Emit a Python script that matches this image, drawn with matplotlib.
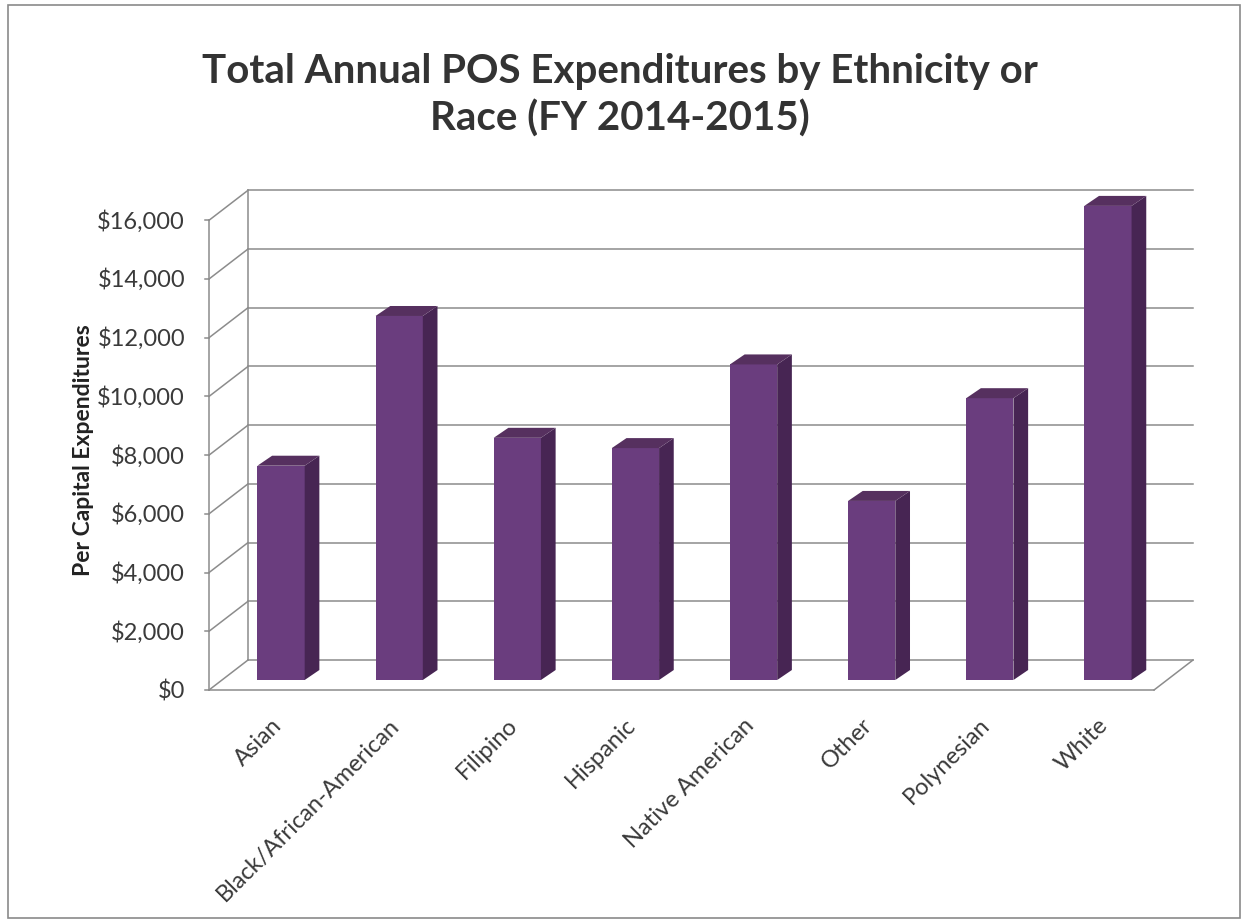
import matplotlib
matplotlib.use("Agg")
import matplotlib.pyplot as plt
from matplotlib.patches import Polygon, Rectangle

plt.rcParams['font.family'] = ['Lato', 'DejaVu Sans']

categories = ["Asian", "Black/African-American", "Filipino", "Hispanic",
              "Native American", "Other", "Polynesian", "White"]
values = [7300, 12400, 8250, 7900, 10750, 6100, 9600, 16150]
yticks = [0, 2000, 4000, 6000, 8000, 10000, 12000, 14000, 16000]
ytick_labels = ["$0", "$2,000", "$4,000", "$6,000", "$8,000", "$10,000",
                "$12,000", "$14,000", "$16,000"]
title = "Total Annual POS Expenditures by Ethnicity or\nRace (FY 2014-2015)"
ylabel = "Per Capital Expenditures"

W, H = 1241, 921
fig = plt.figure(figsize=(W / 100, H / 100), dpi=100)
fig.patch.set_facecolor("white")

# pseudo-3D geometry (data units)
DX, DY = 0.330, 1021          # full depth offset
n = len(categories)
x_front_left, x_front_right = -0.5, n - 0.5

ax = fig.add_axes([209 / W, (H - 690) / H, 984 / W, 502 / H])
ax.set_xlim(x_front_left, x_front_right + DX)
ax.set_ylim(0, 17100)
ax.axis("off")

grid_c = "#8c8c8c"
lw = 1.1
# back wall gridlines + diagonal side wall lines
for v in yticks:
    ax.plot([x_front_left, x_front_left + DX], [v, v + DY], color=grid_c, lw=lw, clip_on=False)
    ax.plot([x_front_left + DX, x_front_right + DX], [v + DY, v + DY], color=grid_c, lw=lw, clip_on=False)
# back-left vertical edge
ax.plot([x_front_left + DX] * 2, [DY, yticks[-1] + DY], color=grid_c, lw=lw, clip_on=False)
# front-left axis
ax.plot([x_front_left] * 2, [0, yticks[-1]], color=grid_c, lw=lw, clip_on=False)
for v in yticks:
    ax.plot([x_front_left - 0.03, x_front_left], [v, v], color=grid_c, lw=lw, clip_on=False)
# floor
ax.plot([x_front_left, x_front_right], [0, 0], color=grid_c, lw=lw, clip_on=False)
ax.plot([x_front_right, x_front_right + DX], [0, DY], color=grid_c, lw=lw, clip_on=False)

# bars
front_c = "#6a3d7e"
side_c = "#472553"
top_c = "#56305f"
bw = 0.40
sx, sy = DX / 3, DY / 3       # bar front plane offset
ddx, ddy = DX / 3 * 1.13, DY / 3
xs = [i + sx for i in range(n)]
ax.bar(xs, values, width=bw, bottom=sy, color=front_c, edgecolor="none", zorder=3, clip_on=False)
for xc, v in zip(xs, values):
    xl, xr = xc - bw / 2, xc + bw / 2
    top = sy + v
    ax.add_patch(Polygon([(xr, sy), (xr + ddx, sy + ddy), (xr + ddx, top + ddy), (xr, top)],
                         closed=True, facecolor=side_c, edgecolor="none", zorder=3, clip_on=False))
    ax.add_patch(Polygon([(xl, top), (xr, top), (xr + ddx, top + ddy), (xl + ddx, top + ddy)],
                         closed=True, facecolor=top_c, edgecolor="none", zorder=3, clip_on=False))

# y tick labels
for v, lab in zip(yticks, ytick_labels):
    ax.annotate(lab, (x_front_left, v), xytext=(-24, -1), textcoords="offset pixels",
                ha="right", va="center", fontsize=17, color="#3a3a3a", annotation_clip=False)

# x tick labels
for i, lab in enumerate(categories):
    ax.annotate(lab, (i, 0), xytext=(10, -32), textcoords="offset pixels",
                ha="right", va="center", rotation=45, rotation_mode="anchor",
                fontsize=17, color="#3a3a3a", annotation_clip=False)

fig.text(84 / W, 1 - 450 / H, ylabel, rotation=90, ha="center", va="center",
         fontsize=16.5, fontweight="bold", color="#222222")
fig.text(620 / W, 1 - 95 / H, title, ha="center", va="center", fontsize=29,
         fontweight="bold", color="#333333", linespacing=1.3)

# outer chart border
fig.add_artist(Rectangle((8 / W, 3 / H), (1240 - 8) / W, (916 - 3) / H, transform=fig.transFigure,
                         fill=False, edgecolor="#8a8a8a", lw=1.2))

fig.savefig("out.png", dpi=100, facecolor="white")
